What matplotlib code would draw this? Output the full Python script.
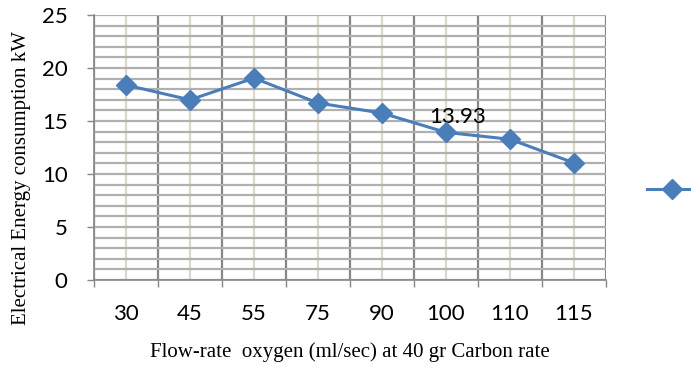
import numpy as np
import matplotlib
matplotlib.use("Agg")
import matplotlib.pyplot as plt
from matplotlib.ticker import MultipleLocator, FixedLocator
from matplotlib.lines import Line2D

# oxygen flow-rate categories and measured energy use
flow_rates = ["30", "45", "55", "75", "90", "100", "110", "115"]
energy_kw = [18.4, 17.0, 19.05, 16.7, 15.75, 13.93, 13.28, 11.05]

fig = plt.figure(figsize=(6.91, 3.67), dpi=100)
ax = fig.add_axes([0.136, 0.237, 0.741, 0.722])

x = np.arange(len(flow_rates))
blue = "#4a7ebb"
ax.plot(x, energy_kw, color=blue, lw=2.2, marker="D", ms=10, zorder=5)

ax.set_xlim(-0.5, len(flow_rates) - 0.5)
ax.set_ylim(0, 25)

# category boundaries carry tick marks, centres carry the labels
ax.xaxis.set_major_locator(FixedLocator(np.arange(-0.5, len(flow_rates), 1.0)))
ax.xaxis.set_minor_locator(FixedLocator(x))
ax.set_xticklabels([], minor=False)
ax.set_xticklabels(flow_rates, minor=True)
ax.tick_params(axis="x", which="major", length=5, color="#868686", width=1)
ax.tick_params(axis="x", which="minor", length=0, pad=17)

ax.yaxis.set_major_locator(MultipleLocator(5))
ax.yaxis.set_minor_locator(MultipleLocator(1))
ax.tick_params(axis="y", which="major", length=5, color="#868686", width=1, pad=14)
ax.tick_params(axis="y", which="minor", length=0)

for lbl in ax.get_yticklabels() + ax.get_xticklabels(minor=True):
    lbl.set_fontfamily("Lato")
    lbl.set_fontsize(16)

ax.grid(axis="y", which="both", color="#b0b0b0", lw=1.6)
ax.grid(axis="x", which="major", color="#868686", lw=1.6)
ax.grid(axis="x", which="minor", color="#ddd9c3", lw=1.6)
ax.set_axisbelow(True)

for side in ["top", "right"]:
    ax.spines[side].set_visible(False)
for side in ["left", "bottom"]:
    ax.spines[side].set_color("#868686")
    ax.spines[side].set_linewidth(1.2)

ax.annotate(f"{energy_kw[5]:.2f}", (x[5], energy_kw[5]), xytext=(8, 11),
            textcoords="offset points", ha="center", va="center",
            fontfamily="Lato", fontsize=16)

ax.set_ylabel("Electrical Energy consumption kW", fontfamily="Liberation Serif",
              fontsize=15, va="center")
ax.yaxis.set_label_coords(-0.1406, 0.385)
ax.set_xlabel("Flow-rate  oxygen (ml/sec) at 40 gr Carbon rate",
              fontfamily="Liberation Serif", fontsize=15, va="center")
ax.xaxis.set_label_coords(0.5, -0.272)

handle = Line2D([], [], color=blue, lw=2.2, marker="D", ms=10)
fig.legend([handle], [""], loc="center left", bbox_to_anchor=(647 / 691, 0.482),
           frameon=False, handlelength=3.6, borderpad=0, borderaxespad=0,
           handletextpad=0)

fig.savefig("out.png", dpi=100)
